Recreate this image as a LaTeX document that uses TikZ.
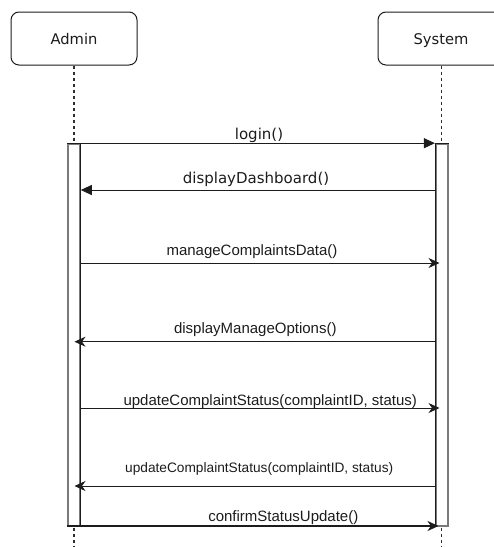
\documentclass[tikz,border=0pt]{standalone}
\usepackage{fontspec}
\setmainfont{DejaVu Sans}
\newfontfamily\arialfont{Liberation Sans}
\usetikzlibrary{arrows.meta}
\definecolor{ink}{HTML}{1C1C1C}
\definecolor{baredge}{HTML}{7A7A7A}
\definecolor{lifegray}{HTML}{2E2E2E}

\begin{document}
\begin{tikzpicture}[x=1pt,y=-1pt,
  actor/.style={draw=ink, line width=1pt, rounded corners=8pt, fill=white,
    minimum width=126pt, minimum height=53pt, inner sep=0pt,
    text height=11pt, text depth=0pt, text=ink, font=\fontsize{14.7}{17}\selectfont},
  lifeline/.style={draw=lifegray, line width=1.1pt, dash pattern=on 3pt off 3pt},
  actbar/.style={draw=baredge, line width=1.6pt, fill=white, inner sep=0pt,
    minimum width=12pt, minimum height=382pt},
  barinner/.style={draw=ink, line width=0.8pt},
  msg/.style={draw=ink, line width=0.9pt},
  synctip/.style={-{Triangle[length=11pt,width=10pt]}},
  stealthtip/.style={-{Stealth[length=11pt,width=10pt,inset=3.5pt]}},
  dvlabel/.style={anchor=base, inner sep=0pt, text=ink, font=\fontsize{15}{18}\selectfont},
  arlabel/.style={anchor=base, inner sep=0pt, text=ink, font=\arialfont\fontsize{15}{18}\selectfont},
  arsmall/.style={anchor=base, inner sep=0pt, text=ink, font=\arialfont\fontsize{13.7}{16}\selectfont}
]
\useasboundingbox (0,0) rectangle (494,547);

% participants
\node[actor] (admin) at (74,38.5) {Admin};
\node[actor] (system) at (441,38.5) {System};

% lifeline ends
\coordinate (adminEnd) at (74,547);
\coordinate (systemEnd) at (441.7,547);
\draw[lifeline] (admin.south) -- (adminEnd);
\draw[lifeline] (system.south -| systemEnd) -- (systemEnd);

% activation bars
\node[actbar] (abar) at (74,335) {};
\node[actbar] (sbar) at (441.7,335) {};
\draw[barinner] (abar.north east) -- (abar.south east);
\draw[barinner] (sbar.north west) -- (sbar.south west);

% message end points
\coordinate (a2) at (abar.east |- 0,190);
\coordinate (s2) at (sbar.west |- 0,190);
\coordinate (a3) at (abar.east |- 0,263);
\coordinate (s3) at (439.5,263);
\coordinate (a4) at (74.5,341.7);
\coordinate (s4) at (sbar.west |- 0,341.7);
\coordinate (a5) at (abar.east |- 0,408);
\coordinate (s5) at (439.5,408);
\coordinate (a6) at (74.5,486);
\coordinate (s6) at (sbar.west |- 0,486);
\coordinate (a7) at (abar.west |- 0,526);
\coordinate (s7) at (438.5,526);

% messages
\draw[msg,line width=1.2pt] (abar.north west) -- (abar.north east);
\draw[msg,synctip] (abar.north east) -- (sbar.north west);
\draw[msg,line width=1.2pt] (sbar.north west) -- (sbar.north east);
\node[dvlabel] (l1) at (259,139.5) {login()};

\draw[msg,synctip] (s2) -- (a2);
\node[dvlabel] (l2) at (256,183.5) {displayDashboard()};

\draw[msg,stealthtip] (a3) -- (s3);
\node[arlabel] (l3) at (252,255) {manageComplaintsData()};

\draw[msg,stealthtip] (s4) -- (a4);
\node[arlabel] (l4) at (255.3,333.5) {displayManageOptions()};

\draw[msg,stealthtip] (a5) -- (s5);
\node[arlabel] (l5) at (270.3,405.5) {updateComplaintStatus(complaintID, status)};

\draw[msg,stealthtip] (s6) -- (a6);
\node[arsmall] (l6) at (259.2,472.5) {updateComplaintStatus(complaintID, status)};

\draw[msg,stealthtip,line width=1.8pt] (a7) -- (s7);
\node[arlabel] (l7) at (283.3,521.5) {confirmStatusUpdate()};
\end{tikzpicture}
\end{document}
